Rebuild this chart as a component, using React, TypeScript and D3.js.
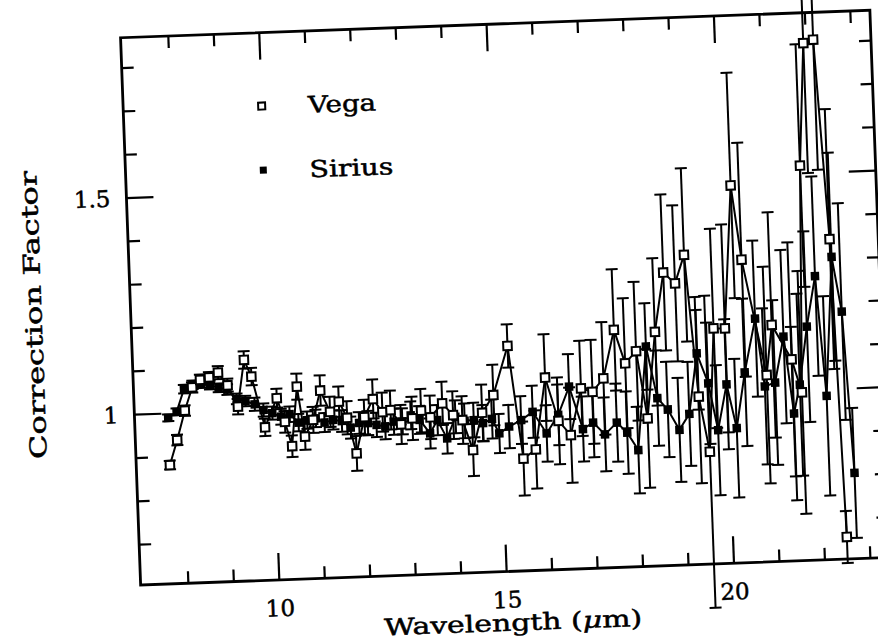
import React from 'react';
import * as d3 from 'd3';

const W = 878;
const H = 643;

// axis ticks
const xMinorTicks = [8, 9, 11, 12, 13, 14, 16, 17, 18, 19, 21, 22, 23];
const xMajorTicks = [10, 15, 20];
const xTickLabels = ['10', '15', '20'];
const yMinorTicks = [0.7, 0.8, 0.9, 1.1, 1.2, 1.3, 1.4, 1.6, 1.7, 1.8];
const yMajorTicks = [1, 1.5];
const yTickLabels = ['1', '1.5'];

// Vega (open squares)
const vegaWl = [7.69, 7.87, 8.06, 8.24, 8.42, 8.62, 8.82, 9.02, 9.23, 9.4, 9.55, 9.81, 10.09, 10.25, 10.39, 10.54, 10.68, 10.87,
  11.05, 11.25, 11.45, 11.62, 11.8, 12.0, 12.2, 12.4, 12.58, 12.8, 13.05, 13.25, 13.45, 13.72, 13.95, 14.15, 14.36, 14.59, 14.85,
  15.2, 15.46, 15.74, 16.0, 16.26, 16.52, 16.78, 17.03, 17.28, 17.55, 17.77, 18.02, 18.22, 18.45, 18.68, 18.93, 19.15, 19.36,
  19.56, 19.74, 19.99, 20.23, 20.41, 20.87, 21.02, 21.43, 21.63, 21.77, 21.94, 22.16, 22.36, 22.5];
const vegaVal = [0.881, 0.938, 1.005, 1.058, 1.075, 1.08, 1.09, 1.06, 1.01, 1.117, 1.078, 0.96, 1.026, 0.971, 0.914, 1.051, 0.935, 0.973,
  1.04, 0.99, 1.013, 0.975, 0.892, 0.975, 1.016, 0.985, 0.989, 0.955, 0.968, 0.985, 0.969, 1.0, 0.972, 0.96, 0.89, 0.975, 1.015,
  1.127, 0.866, 0.886, 1.051, 0.95, 0.916, 1.023, 1.014, 1.044, 1.155, 1.077, 1.104, 0.948, 1.147, 1.283, 1.257, 1.322, 0.994,
  0.866, 1.15, 1.149, 1.478, 1.306, 1.038, 1.153, 1.072, 0.995, 1.518, 1.8, 1.807, 1.346, 0.658];
const vegaErr = [0.01, 0.012, 0.012, 0.012, 0.012, 0.012, 0.015, 0.015, 0.018, 0.02, 0.02, 0.02, 0.022, 0.025, 0.025, 0.03, 0.03, 0.03,
  0.035, 0.035, 0.035, 0.038, 0.04, 0.04, 0.045, 0.045, 0.045, 0.045, 0.05, 0.05, 0.05, 0.05, 0.055, 0.055, 0.06, 0.065, 0.07,
  0.05, 0.085, 0.09, 0.1, 0.1, 0.11, 0.11, 0.12, 0.13, 0.14, 0.15, 0.16, 0.16, 0.17, 0.18, 0.18, 0.2, 0.2,
  0.36, 0.23, 0.24, 0.26, 0.27, 0.25, 0.26, 0.27, 0.28, 0.28, 0.3, 0.3, 0.3, 0.06];

// Sirius (filled squares)
const siriusWl = [7.69, 7.88, 8.06, 8.25, 8.44, 8.63, 8.82, 9.01, 9.21, 9.4, 9.6, 9.79, 9.98, 10.17, 10.36, 10.55, 10.74, 10.93,
  11.12, 11.31, 11.5, 11.69, 11.88, 12.07, 12.26, 12.45, 12.64, 12.83, 13.02, 13.21, 13.43, 13.6, 13.8, 14.0, 14.2, 14.4, 14.6,
  14.8, 14.95, 15.17, 15.44, 15.7, 15.99, 16.26, 16.52, 16.79, 17.02, 17.27, 17.54, 17.76, 17.99, 18.24, 18.45, 18.67, 18.91,
  19.14, 19.35, 19.58, 19.76, 19.98, 20.17, 20.39, 20.66, 20.82, 21.05, 21.27, 21.44, 21.59, 21.79, 22.01, 22.17, 22.39, 22.57, 22.72];
const siriusVal = [0.99, 1.003, 1.055, 1.064, 1.066, 1.062, 1.055, 1.05, 1.028, 1.022, 1.014, 1.0, 0.992, 0.983, 0.988, 0.968, 0.973, 0.976,
  0.966, 0.971, 0.968, 0.952, 0.962, 0.961, 0.956, 0.952, 0.962, 0.962, 0.975, 0.964, 0.932, 0.962, 0.919, 0.968, 0.958, 0.959, 0.951,
  0.96, 0.926, 0.941, 0.955, 0.973, 0.922, 0.964, 1.028, 0.929, 0.943, 0.915, 0.941, 0.917, 0.876, 1.114, 0.994, 0.967, 0.919,
  0.955, 1.094, 1.024, 0.915, 1.02, 0.918, 1.046, 1.169, 1.012, 1.02, 1.125, 0.947, 1.013, 1.146, 1.262, 0.985, 1.305, 1.178, 0.805];
const siriusErr = [0.008, 0.008, 0.01, 0.01, 0.01, 0.01, 0.01, 0.012, 0.012, 0.012, 0.015, 0.015, 0.015, 0.018, 0.018, 0.02, 0.02, 0.02,
  0.022, 0.022, 0.025, 0.025, 0.025, 0.028, 0.028, 0.03, 0.03, 0.03, 0.032, 0.032, 0.035, 0.035, 0.035, 0.038, 0.04, 0.04, 0.042,
  0.045, 0.045, 0.05, 0.055, 0.06, 0.065, 0.07, 0.075, 0.075, 0.08, 0.085, 0.09, 0.095, 0.1, 0.1, 0.11, 0.11, 0.12,
  0.12, 0.13, 0.14, 0.15, 0.15, 0.16, 0.17, 0.18, 0.18, 0.19, 0.2, 0.2, 0.21, 0.22, 0.23, 0.23, 0.24, 0.25, 0.15];

type Pt = { w: number; v: number; e: number };
const vega: Pt[] = vegaWl.map((w, i) => ({ w, v: vegaVal[i], e: vegaErr[i] }));
const sirius: Pt[] = siriusWl.map((w, i) => ({ w, v: siriusVal[i], e: siriusErr[i] }));

const FONT = "'DejaVu Serif', 'Liberation Serif', serif";

export default function App() {
  const x = d3.scaleLinear().domain([6.95, 23.43]).range([134.1, 883.9]);
  const y = d3.scaleLinear().domain([0.607, 1.87]).range([571.7, 24.1]);
  const x0 = x.range()[0], x1 = x.range()[1];
  const y0 = y.range()[0], y1 = y.range()[1];
  const line = d3.line<Pt>().x(d => x(d.w)).y(d => y(d.v));
  const minorLen = 12, majorLen = 27;
  const cap = 6;
  const ms = 8.5;
  const txt = { fontFamily: FONT, fill: '#000', stroke: '#000', strokeWidth: 0.5 } as const;

  const errBars = (data: Pt[], key: string) => data.map((d, i) => {
    const cx = x(d.w);
    const t = y(d.v + d.e), b = y(d.v - d.e);
    return (
      <g key={key + i}>
        <line x1={cx} x2={cx} y1={t} y2={b} />
        <line x1={cx - cap} x2={cx + cap} y1={t} y2={t} />
        <line x1={cx - cap} x2={cx + cap} y1={b} y2={b} />
      </g>
    );
  });

  return (
    <svg width={W} height={H} style={{ position: 'absolute', left: 0, top: 0, background: '#fff' }}>
      <rect x={0} y={0} width={W} height={H} fill="#fff" />
      <g transform="rotate(-2.1, 500, 400)">
        {/* frame */}
        <rect x={x0} y={y1} width={x1 - x0} height={y0 - y1} fill="none" stroke="#000" strokeWidth={2.8} />
        {/* ticks */}
        <g stroke="#000" strokeWidth={2.2}>
          {xMinorTicks.map(t => (
            <g key={'xm' + t}>
              <line x1={x(t)} x2={x(t)} y1={y0} y2={y0 - minorLen} />
              <line x1={x(t)} x2={x(t)} y1={y1} y2={y1 + minorLen} />
            </g>
          ))}
          {xMajorTicks.map(t => (
            <g key={'xM' + t}>
              <line x1={x(t)} x2={x(t)} y1={y0} y2={y0 - majorLen} />
              <line x1={x(t)} x2={x(t)} y1={y1} y2={y1 + majorLen} />
            </g>
          ))}
          {yMinorTicks.map(t => (
            <g key={'ym' + t}>
              <line x1={x0} x2={x0 + minorLen} y1={y(t)} y2={y(t)} />
              <line x1={x1} x2={x1 - minorLen} y1={y(t)} y2={y(t)} />
            </g>
          ))}
          {yMajorTicks.map(t => (
            <g key={'yM' + t}>
              <line x1={x0} x2={x0 + majorLen} y1={y(t)} y2={y(t)} />
              <line x1={x1} x2={x1 - majorLen} y1={y(t)} y2={y(t)} />
            </g>
          ))}
        </g>
        {/* tick labels */}
        <g {...txt} fontSize={23}>
          {xMajorTicks.map((t, i) => (
            <text key={'xl' + t} x={x(t)} y={608} textAnchor="middle">{xTickLabels[i]}</text>
          ))}
          {yMajorTicks.map((t, i) => (
            <text key={'yl' + t} x={x0 - 16} y={y(t) + 8} textAnchor="end">{yTickLabels[i]}</text>
          ))}
        </g>
        {/* axis titles */}
        <text {...txt} x={505} y={631} textAnchor="middle" fontSize={23} textLength={258} lengthAdjust="spacingAndGlyphs">
          Wavelength (<tspan fontStyle="italic">μ</tspan>m)
        </text>
        <text {...txt} transform="translate(45, 298) rotate(-90)" x={0} y={0} textAnchor="middle" fontSize={23}
          textLength={288} lengthAdjust="spacingAndGlyphs">Correction Factor</text>
        {/* legend */}
        <rect x={272.6 - 3.5} y={97.5 - 3.5} width={7} height={7} fill="#fff" stroke="#000" strokeWidth={2} />
        <text {...txt} x={319} y={106} fontSize={23} textLength={68} lengthAdjust="spacingAndGlyphs">Vega</text>
        <rect x={271.9 - 3.5} y={161.5 - 3.5} width={7} height={7} fill="#000" />
        <text {...txt} x={318} y={170.5} fontSize={23} textLength={84} lengthAdjust="spacingAndGlyphs">Sirius</text>
        {/* data */}
        <g>
          <g stroke="#000" strokeWidth={2} fill="none">
            {errBars(sirius, 's')}
            {errBars(vega, 'v')}
            <path d={line(sirius) || ''} />
            <path d={line(vega) || ''} />
          </g>
          {sirius.map((d, i) => (
            <rect key={'sm' + i} x={x(d.w) - ms / 2} y={y(d.v) - ms / 2} width={ms} height={ms} fill="#000" />
          ))}
          {vega.map((d, i) => (
            <rect key={'vm' + i} x={x(d.w) - ms / 2} y={y(d.v) - ms / 2} width={ms} height={ms} fill="#fff" stroke="#000" strokeWidth={2} />
          ))}
        </g>
      </g>
    </svg>
  );
}
